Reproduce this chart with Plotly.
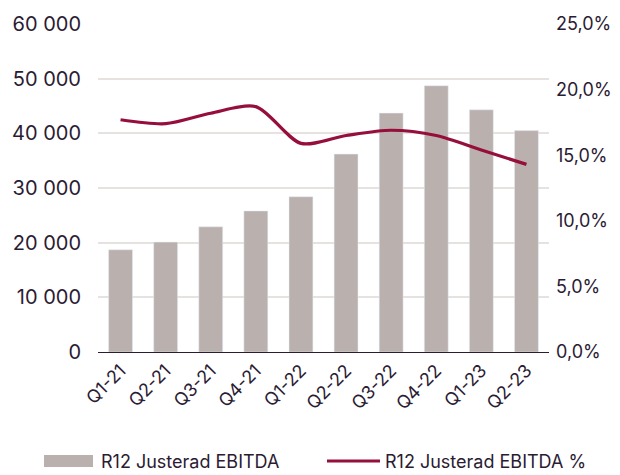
import plotly.graph_objects as go

# Data
kvartal = ["Q1-21", "Q2-21", "Q3-21", "Q4-21", "Q1-22",
           "Q2-22", "Q3-22", "Q4-22", "Q1-23", "Q2-23"]
ebitda = [18700, 20100, 22900, 25800, 28400, 36200, 43700, 48700, 44300, 40500]
ebitda_pct = [17.7, 17.4, 18.2, 18.7, 15.9, 16.5, 16.9, 16.5, 15.4, 14.3]

vanster_ticks = [0, 10000, 20000, 30000, 40000, 50000, 60000]
vanster_text = ["0", "10 000", "20 000", "30 000", "40 000", "50 000", "60 000"]
hoger_ticks = [0, 5, 10, 15, 20, 25]
hoger_text = ["0,0%", "5,0%", "10,0%", "15,0%", "20,0%", "25,0%"]

BAR_COLOR = "#bab1af"
LINE_COLOR = "#960f3c"
INK = "#2b1b33"
GRID = "#e6e2df"
FONT = "Inter, Roboto, sans-serif"

# page body has an 8px margin, so the figure is drawn 8px smaller/offset
W, H = 612, 467
L, T, R, B = 90, 16, 71, 123
PW, PH = W - L - R, H - T - B


def px_x(x):
    """page pixel x -> paper coordinate"""
    return (x - 8 - L) / PW


def px_y(y):
    """page pixel y -> paper coordinate"""
    return (H - B - (y - 8)) / PH


fig = go.Figure()
fig.add_bar(
    x=kvartal, y=ebitda, name="R12 Justerad EBITDA",
    marker_color=BAR_COLOR, width=0.53, showlegend=False,
)
fig.add_scatter(
    x=kvartal, y=ebitda_pct, name="R12 Justerad EBITDA %", yaxis="y2",
    mode="lines", line=dict(color=LINE_COLOR, width=3.2, shape="spline", smoothing=0.8),
    showlegend=False,
)

# Legend drawn by hand so the bar swatch is a wide rectangle like the original
LEG_Y = 461
fig.add_shape(type="rect", xref="paper", yref="paper",
              x0=px_x(44), x1=px_x(93), y0=px_y(LEG_Y - 6), y1=px_y(LEG_Y + 6),
              fillcolor=BAR_COLOR, line_width=0)
fig.add_shape(type="line", xref="paper", yref="paper",
              x0=px_x(327), x1=px_x(380), y0=px_y(LEG_Y), y1=px_y(LEG_Y),
              line=dict(color=LINE_COLOR, width=3))
fig.add_annotation(text="R12 Justerad EBITDA", xref="paper", yref="paper",
                   x=px_x(99), y=px_y(LEG_Y),
                   xanchor="left", yanchor="middle", showarrow=False,
                   font=dict(size=18, color=INK, family=FONT))
fig.add_annotation(text="R12 Justerad EBITDA %", xref="paper", yref="paper",
                   x=px_x(383), y=px_y(LEG_Y),
                   xanchor="left", yanchor="middle", showarrow=False,
                   font=dict(size=18, color=INK, family=FONT))

fig.update_layout(
    width=W, height=H,
    margin=dict(l=L, r=R, t=T, b=B),
    plot_bgcolor="white", paper_bgcolor="white",
    font=dict(family=FONT, size=20, color=INK),
    bargap=0.47,
    xaxis=dict(
        tickangle=-45, showgrid=False, ticks="", automargin=False,
        showline=True, linecolor=INK, linewidth=1,
        tickfont=dict(size=18),
    ),
    yaxis=dict(
        range=[0, 60000], tickvals=vanster_ticks, ticktext=vanster_text,
        showgrid=True, gridcolor=GRID, gridwidth=2, zeroline=False,
        ticks="", ticklabelstandoff=16, automargin=False,
    ),
    yaxis2=dict(
        range=[0, 25], tickvals=hoger_ticks, ticktext=hoger_text,
        overlaying="y", side="right", showgrid=False, zeroline=False,
        ticks="", ticklabelstandoff=6, automargin=False,
        tickfont=dict(size=18),
    ),
)

fig.write_html("out.html")
